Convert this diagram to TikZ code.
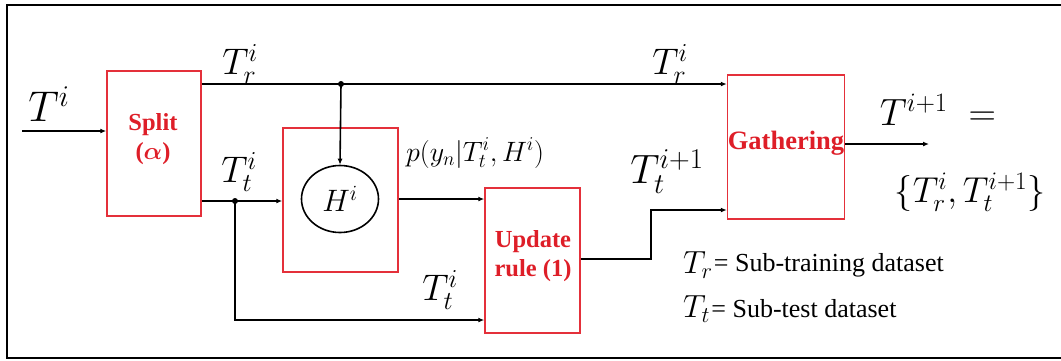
\RequirePackage{fix-cm}
\documentclass[tikz,border=0pt]{standalone}
\usepackage[no-math]{fontspec}
\setmainfont{Liberation Serif}
\usepackage{amsmath}
\usetikzlibrary{arrows.meta,shapes.geometric}
\definecolor{boxred}{RGB}{228,48,58}
\definecolor{txtred}{RGB}{222,30,40}
\begin{document}
\begin{tikzpicture}[x=1pt,y=-1pt,
  redbox/.style={draw=boxred,line width=1.5pt,inner sep=0pt},
  wire/.style={draw=black,line width=1.6pt},
  arr/.style={wire,-{Latex[length=6pt,width=5pt]}},
  dot/.style={circle,fill=black,inner sep=0pt,minimum size=6pt},
  redtxt/.style={text=txtred,font=\fontsize{24.5}{27}\selectfont\bfseries,align=center,inner sep=0pt},
  bigm/.style={font=\fontsize{37}{40}\selectfont,inner sep=0pt},
  midm/.style={font=\fontsize{36}{40}\selectfont,inner sep=0pt},
  legm/.style={font=\fontsize{32}{36}\selectfont,inner sep=0pt},
  legt/.style={font=\fontsize{26}{29}\selectfont,inner sep=0pt}]
\useasboundingbox (0,0) rectangle (1061,360);
% frame
\draw[line width=1.8pt] (1075,5) -- (7,5) -- (7,358) -- (1075,358);
% boxes
\node[redbox,minimum width=94pt,minimum height=145pt] (split) at (154,143.5) {};
\node[redbox,minimum width=115pt,minimum height=144pt] (hbox) at (340.5,200) {};
\node[redbox,minimum width=95pt,minimum height=145pt] (upd) at (532.5,260.5) {};
\node[redbox,minimum width=117pt,minimum height=144pt] (gath) at (786,147) {};
\node[draw,ellipse,line width=1.6pt,minimum width=77pt,minimum height=67pt,inner sep=0pt,font=\fontsize{31}{34}\selectfont] (hcirc) at (340,199) {$H^i$};
% box texts
\node[redtxt] (splitt) at (153,139) {Split\\[2pt]($\boldsymbol{\alpha}$)};
\node[redtxt] (updt) at (533,256) {Update\\[2pt]rule (1)};
\node[redtxt,font=\fontsize{26.5}{28}\selectfont\bfseries] (gatht) at (786,143) {Gathering};
% coordinates
\coordinate (in) at (22,131);
\coordinate (dtr) at (341,84);
\coordinate (dtt) at (235,201);
\coordinate (ttb) at (235,320);
\coordinate (bend1) at (651,259);
\coordinate (bend2) at (651,210);
\coordinate (out) at (929,144);
% connectors
\draw[arr] (in) -- (in -| split.west);
\draw[arr] (split.east |- dtr) -- (dtr) -- (gath.west |- dtr);
\draw[arr] (dtr) -- (hcirc.north);
\draw[arr] (split.east |- dtt) -- (hbox.west |- dtt);
\draw[arr] (dtt) -- (ttb) -- (upd.west |- ttb);
\draw[arr] (hbox.east |- hcirc) -- (upd.west |- hcirc);
\draw[arr] (upd.east |- bend1) -- (bend1) -- (bend2) -- (gath.west |- bend2);
\draw[arr] (gath.east |- out) -- (out);
\node[dot] (d1) at (dtr) {};
\node[dot] (d2) at (dtt) {};
% labels
\node[bigm,font=\fontsize{43}{46}\selectfont] (lti) at (49,104) {$T^i$};
\node[bigm] (ltr1) at (240,64) {$T_r^i$};
\node[bigm] (ltt1) at (239,172) {$T_t^i$};
\node[bigm] (ltr2) at (670,64) {$T_r^i$};
\node[bigm] (ltt2) at (440,290) {$T_t^i$};
\node[bigm,font=\fontsize{41}{44}\selectfont] (ltt3) at (667,172) {$T_t^{i+1}$};
\node[font=\fontsize{28}{30}\selectfont,inner sep=0pt] (lp) at (475,153) {$p(y_n|T_t^i,H^i)$};
\node[midm,font=\fontsize{38}{42}\selectfont] (lout) at (938,110) {$T^{i+1}\;=$};
\node[midm] (lset) at (970,192) {$\{T_r^i,T_t^{i+1}\}$};
\node[legm,anchor=west] (lgr) at (683,265) {$T_r$};
\node[legt,anchor=west] (lgrt) at ([xshift=1pt]lgr.east) {= Sub-training dataset};
\node[legm,anchor=west] (lgt) at (683,309) {$T_t$};
\node[legt,anchor=west] (lgtt) at ([xshift=1pt]lgt.east) {= Sub-test dataset};
\end{tikzpicture}
\end{document}
